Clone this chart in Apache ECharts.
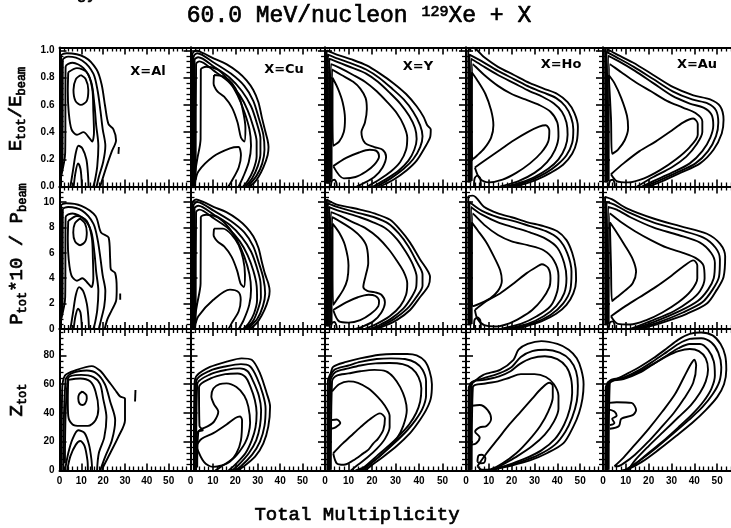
<!DOCTYPE html>
<html><head><meta charset="utf-8">
<script src="https://cdn.jsdelivr.net/npm/echarts@6/dist/echarts.min.js"></script>
<style>html,body{margin:0;padding:0;background:#fff}#c{width:731px;height:528px}</style>
</head><body><div id="c"></div>
<script>
// ---------------- data ----------------
const panelLabels = ['X=Al', 'X=Cu', 'X=Y', 'X=Ho', 'X=Au'];
const xTickLabels = [0, 10, 20, 30, 40, 50];
const eTickLabels = [0.0, 0.2, 0.4, 0.6, 0.8, 1.0];
const pTickLabels = [0, 2, 4, 6, 8, 10];
const zTickLabels = [0, 20, 40, 60, 80];

// contour lines, [multiplicity, value]
const E_Al = [
 [[0.7,0],[0.7,0.96],[3.3,0.98],[11.7,0.95],[17,0.86],[19.3,0.75],[20.9,0.59],[22.4,0.46],[24.7,0.42],[25.9,0.34],[24,0.26],[22,0.17],[19.8,0.06],[18.6,0]],
 [[0.3,0.03],[1.4,0.2],[1.5,0.93],[4,0.955],[10.5,0.925],[15.5,0.83],[17.5,0.7],[18.8,0.55],[19.8,0.42],[21,0.3],[20,0.18],[18,0.07],[17,0]],
 [[0.5,0.06],[2.6,0.25],[2.8,0.88],[6,0.91],[11,0.87],[14.5,0.77],[16,0.6],[16.8,0.45],[17.8,0.3],[17.3,0.15],[16.3,0.05],[15.5,0]],
 [[4,0.84],[8,0.87],[12.5,0.84],[15,0.72],[15.5,0.55],[15.8,0.4],[15,0.33],[13.5,0.36],[11,0.4],[8,0.38],[5.5,0.42],[4.2,0.55],[3.8,0.7],[4,0.84]],
 [[9.8,0.82],[12,0.79],[13.2,0.71],[12.5,0.63],[9.8,0.6],[7.3,0.63],[6.4,0.71],[7.5,0.79],[9.8,0.82]],
 [[5,0],[6.2,0.12],[7.5,0.25],[8.7,0.3],[10.5,0.28],[12.3,0.2],[13,0.1],[13.3,0]],
 [[6.5,0],[7.3,0.1],[8.5,0.17],[9.6,0.13],[10.1,0.05],[10.2,0]],
 [[27,0.24],[27.2,0.29]]
];
const P_Al = [
 [[0.7,0],[0.7,9.7],[3,9.9],[10,9.7],[16.5,8.9],[19,7.6],[22.5,7.2],[23.2,5.5],[23.5,4.7],[25.5,4.4],[26.2,3.2],[26,2.3],[24,1.5],[22,0.8],[20.7,0]],
 [[0.3,0.3],[1.4,2],[1.5,9.4],[4,9.6],[10.5,9.3],[15.5,8.3],[17.5,7],[18.8,5.5],[19.8,4.2],[21,3],[20.5,1.8],[19,0.7],[18,0]],
 [[0.5,0.6],[2.6,2.5],[2.8,8.8],[6,9.1],[11,8.7],[14.5,7.7],[16,6],[16.8,4.5],[17.8,3],[17.3,1.5],[16.3,0.5],[15.5,0]],
 [[4,8.5],[8,8.9],[12.5,8.5],[14.8,7.2],[15.3,5.5],[15.5,4],[14.7,3.3],[13,3.6],[10.5,4],[8,3.8],[5.5,4.2],[4.2,5.5],[3.8,7],[4,8.5]],
 [[9.4,8.7],[11.7,8.3],[12.5,7.6],[11.8,6.9],[9.4,6.6],[7.1,6.9],[6.3,7.6],[7,8.3],[9.4,8.7]],
 [[5,0],[6.2,1.3],[7.5,2.7],[9,3.3],[10.8,3],[12.5,2],[13.2,1],[13.5,0]],
 [[6.5,0],[7.3,1],[8.5,1.6],[9.6,1.3],[10.1,0.5],[10.2,0]],
 [[27.8,2.3],[27.8,2.8]]
];
const Z_Al = [
 [[1,0],[1.2,55],[2.5,66],[7.9,70],[14.8,72.6],[18.5,69.5],[22,63],[25.5,56],[27.8,51.4],[30,50],[30,35],[27,23.5],[23.2,12],[20.1,2.7],[19.5,0]],
 [[1.8,0],[2.8,63],[5.5,67.5],[12.5,69.5],[17,67.5],[20.8,60],[23.2,48],[25.5,35],[24,21],[20.9,9.5],[18.6,0]],
 [[2.5,5],[3.9,64],[10,66.5],[15.5,65],[18.6,60],[20,50],[21.5,37],[20.5,23],[18,12],[17.2,0]],
 [[4,63],[9.5,64],[14,62],[16.5,55],[17.8,43],[16.5,35],[13,31],[9.5,31],[6,32],[4,38],[3.8,50],[4,63]],
 [[10.5,55],[12.3,52.5],[12.5,50],[11.7,46.5],[10.5,45.6],[9.2,46.5],[8.6,50],[9,53],[10.5,55]],
 [[2.5,0],[4,12],[6,22],[8.6,28],[11.5,26],[13.5,18],[14.6,8],[15,0]],
 [[3.5,0],[5,10],[7.5,18],[9.5,20.5],[11.5,17],[12.8,7],[13,0]],
 [[34.6,48],[34.8,56]]
];

const E_Cu = [
 [[0.8,0],[0.8,0.97],[2.5,1.0],[5.7,0.98],[10.5,0.94],[16,0.9],[21.3,0.84],[25,0.78],[28,0.71],[30.3,0.62],[31.8,0.51],[33.3,0.41],[34.4,0.34],[34.8,0.29],[34.4,0.23],[32.5,0.14],[30.3,0.07],[28,0.02],[26,0]],
 [[1.3,0],[1.3,0.95],[3,0.98],[10.5,0.91],[18,0.83],[24,0.74],[28,0.63],[30.5,0.5],[32.5,0.38],[33,0.27],[32,0.17],[29.5,0.08],[25.5,0]],
 [[1.8,0],[1.8,0.93],[3.5,0.95],[10.5,0.88],[17.5,0.8],[23,0.7],[27,0.59],[29.5,0.47],[31.2,0.35],[31.2,0.24],[30,0.15],[27.5,0.06],[24.5,0]],
 [[2.3,0.05],[2.5,0.9],[4,0.92],[10.5,0.85],[17,0.77],[22,0.67],[25.5,0.56],[28,0.44],[29.5,0.33],[29.5,0.22],[28,0.12],[25.5,0.04],[23.5,0]],
 [[1.5,0.05],[3,0.2],[4.5,0.35],[4.6,0.86],[7,0.88],[12,0.86],[17,0.78],[21,0.67],[24,0.55],[26.3,0.42],[27,0.3],[26,0.18],[23.5,0.07],[21.5,0]],
 [[10.5,0.82],[14.5,0.81],[18.5,0.76],[21.5,0.67],[23.5,0.55],[24.5,0.43],[24,0.33],[22.5,0.36],[21,0.47],[18.5,0.58],[15,0.66],[12,0.7],[10.3,0.76],[10.5,0.82]],
 [[2,0.02],[3.5,0.11],[10.2,0.22],[17.6,0.28],[21.4,0.29],[22.5,0.23],[21.5,0.14],[18.4,0.04],[16.9,0]]
];
const P_Cu = [
 [[0.8,0],[0.8,9.9],[2.5,10.2],[5.7,10],[10.5,9.6],[16,9.2],[21.3,8.6],[25,8],[28,7.3],[30.3,6.4],[31.8,5.3],[33.3,4.3],[34.7,3.6],[35.3,3],[34.8,2.4],[33,1.5],[30.5,0.7],[28,0.2],[26,0]],
 [[1.3,0],[1.3,9.7],[3,10],[10.5,9.3],[18,8.5],[24,7.6],[28,6.5],[30.5,5.2],[32.5,4],[33.3,2.8],[32.3,1.8],[29.8,0.8],[25.5,0]],
 [[1.8,0],[1.8,9.5],[3.5,9.7],[10.5,9],[17.5,8.2],[23,7.2],[27,6.1],[29.5,4.9],[31.2,3.7],[31.4,2.5],[30.2,1.6],[27.8,0.6],[24.5,0]],
 [[2.3,0.5],[2.5,9.2],[4,9.4],[10.5,8.7],[17,7.9],[22,6.9],[25.5,5.8],[28,4.6],[29.5,3.4],[29.7,2.3],[28.3,1.2],[25.8,0.4],[23.5,0]],
 [[1.5,0.5],[3,2],[4.5,3.6],[4.6,8.8],[7,9],[12,8.8],[17,8],[21,6.9],[24,5.7],[26.3,4.3],[27,3.1],[26.2,1.9],[23.7,0.7],[21.5,0]],
 [[10.5,7.9],[14.5,7.9],[18.5,7.4],[21.5,6.6],[23.5,5.5],[24.3,4.3],[23.8,3.3],[22.3,3.6],[20.8,4.6],[18.3,5.7],[15,6.5],[12,6.9],[10.3,7.4],[10.5,7.9]],
 [[2,0.2],[3.5,1],[10.2,2.3],[17.6,3.1],[21.4,2.9],[22.4,2.3],[21.5,1.4],[18.5,0.5],[17,0]]
];
const Z_Cu = [
 [[1.5,0],[1.8,60],[2.8,66],[8.7,72],[16.1,75.7],[22.8,78],[27.3,77],[31,67.6],[34,53.7],[35.5,44.4],[34.7,30.5],[32.5,18.9],[28.8,9.6],[23.6,2.7],[20.6,0]],
 [[2,0],[2.5,62],[8.8,69.5],[16,72.5],[22.5,74],[26.5,72.5],[29.5,65],[32.3,53],[33.5,43],[33,31],[31,20],[27.5,11],[22.5,3],[19.5,0]],
 [[2.5,0],[3,60],[9,67],[16,70],[22,71],[25.5,69],[28,62],[30.5,52],[31.5,42],[31,31],[29.3,21],[26,12],[21.5,4],[18.5,0]],
 [[3,2],[3.5,27],[5.5,28],[4,31],[3.8,58],[9,64],[15.5,67],[21,67.5],[24.5,65],[26.8,58],[28.7,49],[29.5,40],[29,30],[27.3,21],[24.5,12],[20.5,5],[17,0]],
 [[2,23.5],[4.2,28.2],[8,31],[10.5,34],[12.4,41],[10.5,46],[9.3,51.4],[10.2,57],[13,60],[16.1,60.6],[20.5,58],[24,52],[25.8,44.4],[26.6,33],[25.8,25],[24.3,19],[21.8,13],[19.9,9.6],[17,6],[14.7,3.8],[13,2],[11,0]],
 [[2.5,17],[5,22],[10.2,26],[16.1,32],[20,36.5],[22.1,37.5],[23,35],[22.5,21],[20.5,12],[17.5,6],[14,3.5],[10,2.5],[6,6],[2.5,17]]
];

const E_Y = [
 [[0.7,0.02],[0.7,1.0],[5,0.97],[12,0.93],[17.7,0.89],[23.4,0.83],[29.1,0.76],[34.5,0.68],[39,0.59],[42,0.51],[43.5,0.45],[45,0.42],[44.7,0.36],[42.6,0.29],[39,0.19],[34.8,0.12],[29.1,0.05],[23.4,0]],
 [[1.2,0.02],[1.2,0.97],[5.5,0.94],[12,0.9],[17.5,0.86],[23,0.8],[28.5,0.72],[33.5,0.64],[37.5,0.55],[40.5,0.45],[41.5,0.37],[40.5,0.29],[37.5,0.2],[33.5,0.13],[28,0.06],[22,0]],
 [[1.7,0.02],[1.8,0.94],[6,0.91],[12,0.87],[17.5,0.83],[22.5,0.77],[27.5,0.69],[32,0.61],[35.8,0.52],[38.3,0.43],[39,0.35],[38,0.27],[35.5,0.19],[31.5,0.12],[26.5,0.06],[20.5,0]],
 [[2.2,0.03],[2.5,0.9],[6.5,0.87],[12,0.82],[17,0.77],[22,0.7],[26.5,0.62],[30.5,0.54],[33.5,0.45],[35,0.36],[34.5,0.27],[32,0.18],[28,0.11],[23,0.05],[18,0]],
 [[2.8,0.05],[3,0.86],[7,0.82],[12,0.77],[15,0.72],[17.3,0.65],[17.8,0.57],[17,0.47],[15.5,0.4],[17,0.32],[21,0.29],[24.5,0.27],[26,0.22],[24.5,0.14],[21,0.07],[16,0.02],[13.5,0]],
 [[3.2,0.8],[5.5,0.72],[7.5,0.62],[8.5,0.5],[8,0.4],[6,0.33],[3.5,0.3],[3.2,0.55],[3.2,0.8]],
 [[3.5,0.15],[9,0.21],[14.5,0.25],[19,0.27],[22,0.26],[23,0.22],[21,0.16],[17.5,0.11],[13,0.07],[8,0.06],[3.5,0.15]],
 [[2.5,0],[2.9,0.04],[4,0.05],[4.8,0.03],[5,0]]
];
const P_Y = [
 [[0.7,0.2],[0.7,10.2],[5,9.8],[10,9.6],[14.9,9.4],[21,9.1],[27.7,8.6],[32,7.8],[36.2,6.8],[40.4,5.5],[43.3,4.7],[44.7,4.1],[44,3.4],[40.4,2.5],[36.2,1.5],[30.5,0.7],[24.8,0.2],[22,0]],
 [[1.2,0.2],[1.2,9.9],[5.5,9.6],[14.9,9.1],[21,8.8],[27,8.3],[31.5,7.5],[35.5,6.5],[39,5.3],[41.5,4.3],[41.5,3.4],[38.8,2.5],[35,1.6],[29.5,0.8],[23.5,0.2],[21,0]],
 [[1.7,0.2],[1.8,9.6],[6,9.3],[14.9,8.8],[20.5,8.4],[26,7.9],[30.5,7.1],[34.3,6.1],[37.3,5.1],[39,4.1],[38.8,3.3],[36.8,2.5],[33.3,1.6],[28,0.8],[22,0.2],[19.5,0]],
 [[2.2,0.3],[2.5,9.2],[6.5,8.9],[12,8.4],[17.5,7.9],[22.5,7.2],[27,6.3],[30.5,5.4],[33.5,4.5],[35,3.6],[34.5,2.7],[32,1.8],[27.5,1],[22,0.4],[17,0]],
 [[2.8,0.5],[3,8.8],[7,8.4],[12,7.8],[15.5,7.2],[17.7,6.5],[18.4,5.2],[17.3,4.2],[16.3,3.3],[18,3],[21,2.9],[24,2.7],[25.5,2.1],[24,1.3],[20.5,0.6],[15.5,0.15],[13,0]],
 [[3.2,8.3],[6,7.6],[8.5,6.6],[10,5],[9.5,3.9],[7.8,3.1],[5,2.3],[3.5,1.9],[3.2,5],[3.2,8.3]],
 [[3.5,1.5],[9,2.1],[14,2.5],[18.5,2.7],[21.5,2.6],[23,2.2],[22.7,1.8],[19.5,1.2],[15,0.7],[10,0.5],[6,0.6],[3.5,1.5]],
 [[2.5,0],[2.9,0.45],[4,0.55],[4.8,0.3],[5,0]]
];
const Z_Y = [
 [[1,0],[1.2,62],[2.5,68],[3.5,72.2],[9,75.5],[14.9,78],[23.4,80.5],[29.1,81],[35,81],[39,80],[42.5,76],[44.5,69],[45.5,60],[45,50],[43,42],[39.5,33],[36.2,26],[30.5,17],[24.8,9.6],[19.1,2.7],[17,0]],
 [[1.5,0],[1.8,62],[4,70],[10,73],[15,75.5],[22,77.5],[28,78],[34,77.5],[38.5,75],[41.5,70],[43,62],[43,52],[41.5,43],[38.5,35],[35,28],[29.5,19],[24,11],[18.5,3.5],[16,0]],
 [[2,0],[2.3,62],[4.5,68.5],[10,71],[15,73],[21.5,74.5],[27.5,74.8],[33,74],[37,71],[39.8,65],[41,57],[40.5,48],[38.8,40],[35.8,32],[32,25],[27,17],[22,10],[17.5,3.5],[15,0]],
 [[2.5,0.5],[3,62],[5,66],[10,67.5],[15,69],[21,70],[26,69],[29.1,65],[32,58],[34,50],[34.8,42],[33.3,31],[30.5,22],[26,14],[21,7],[17,2.5],[13,0]],
 [[3,55],[6,60],[10,62],[14,61],[18.5,57],[22.5,51],[25.5,45],[27.5,38],[27.5,30],[25.5,22],[22,15],[18,9],[14,4],[11,0]],
 [[3.5,12],[7,18],[11,24],[15,30],[19,35.5],[23.4,39.7],[25.5,36.3],[24.8,28.2],[22.5,22],[20.6,18.9],[18.5,14.5],[16.3,11.9],[12,7],[8,4],[5,5],[3.5,12]],
 [[2.5,35],[5,35.5],[6.5,33],[4.5,30],[2.5,29]]
];

const E_Ho = [
 [[1,0.03],[1,1.0],[3,1.02],[8,0.95],[14,0.88],[21,0.82],[28,0.76],[34,0.72],[40,0.68],[44.5,0.62],[47.5,0.54],[49,0.44],[48.5,0.33],[46.5,0.24],[42.5,0.16],[37,0.1],[31,0.05],[25,0.015],[21,0]],
 [[1.5,0.03],[1.5,0.97],[7,0.92],[14,0.85],[21,0.79],[28,0.73],[34,0.69],[39.5,0.65],[43.5,0.59],[46,0.51],[47,0.42],[46.5,0.32],[44,0.23],[40,0.16],[35,0.1],[29,0.05],[23,0.015],[19.5,0]],
 [[2,0.03],[2.2,0.94],[7,0.89],[14,0.82],[21,0.76],[28,0.7],[33.5,0.66],[38.5,0.61],[42,0.55],[44,0.47],[44.5,0.38],[43.5,0.29],[40.5,0.2],[36,0.13],[30,0.07],[24,0.03],[18,0]],
 [[2.5,0.04],[3,0.9],[8,0.82],[14,0.74],[20,0.68],[26,0.64],[32,0.6],[37,0.55],[40,0.47],[40.5,0.37],[39,0.27],[35.5,0.18],[30,0.1],[23,0.04],[15,0]],
 [[2.5,0.84],[5,0.78],[8.5,0.68],[11,0.56],[12,0.45],[11,0.36],[8,0.28],[5,0.23],[2.8,0.2],[2.5,0.5],[2.5,0.84]],
 [[3.9,0.14],[9,0.2],[15,0.27],[21,0.34],[27,0.4],[32,0.44],[35,0.45],[36.5,0.41],[36,0.33],[33,0.25],[28,0.17],[22,0.1],[16,0.05],[10,0.03],[6,0.06],[3.9,0.14]],
 [[3.5,0],[3.8,0.06],[5,0.08],[6.2,0.06],[6.5,0]]
];
const P_Ho = [
 [[1,0.3],[1,10.4],[3,10.5],[8,9.6],[14,9.1],[20,8.8],[27,8.4],[34,8.1],[40,7.7],[44,7],[46.5,6],[48,4.8],[48.2,3.8],[47,2.8],[44,1.9],[39.5,1.2],[33,0.6],[26,0.2],[21,0]],
 [[1.5,0.3],[1.5,10],[7,9.3],[14,8.8],[21,8.5],[28,8.1],[35,7.7],[40.5,7.1],[44.3,6],[46.2,4.5],[45.7,3.1],[42.5,2],[37,1.1],[30,0.5],[22,0.1],[19,0]],
 [[2,0.3],[2.2,9.6],[7,9],[14,8.4],[21,8],[28,7.6],[35,7.1],[40,6.4],[43,5.2],[44,4],[43,2.8],[39.5,1.8],[34,1],[27,0.4],[17,0]],
 [[2.5,0.4],[3,9.1],[8,8.2],[14,7.4],[20,6.9],[27,6.6],[34,6.2],[38.5,5.4],[40.5,4.2],[40,3],[37,1.8],[31,1],[24,0.4],[15,0]],
 [[2.5,8.4],[5,7.8],[9,6.8],[12.5,5.6],[15,4.6],[15.7,3.8],[14,3],[10.5,2.4],[6,2],[3,1.8],[2.5,4],[2.5,8.4]],
 [[3.9,1.5],[9,2.2],[14.9,2.8],[21,3.6],[26.6,4.4],[31,4.9],[33.2,5.1],[36,4.8],[37,4],[36.5,3.3],[33.2,2.3],[29,1.5],[24,0.9],[19,0.45],[13,0.2],[8,0.3],[5,0.8],[3.9,1.5]],
 [[3.5,0],[3.7,0.7],[5,0.9],[6.2,0.7],[6.5,0]]
];
const Z_Ho = [
 [[1,0],[1.2,58],[3,61],[7.6,66.5],[14.9,70],[20.8,77],[23,84],[27,88],[33,90],[40,88],[45,84],[48.5,78],[50.5,70],[51.5,60],[51,50],[49.5,40],[47,30.5],[42.7,19],[35.4,12],[28,7],[20,3.5],[12,0.8],[9,0]],
 [[1.5,0],[1.8,60],[7.5,64],[14.5,67.5],[20,72],[24,79],[29,83],[35,84],[41,82],[45.5,77],[48.2,69],[49,59],[48.5,48],[46.5,37],[43.5,27],[39,18],[32,11],[24,6],[16,2.5],[10,0]],
 [[2,0],[2.5,61],[8,63],[14.5,65.5],[19.5,69],[23.5,74],[28.5,78],[34.5,79.5],[40,77.5],[44,72],[46,64],[46.5,54],[45.5,43],[43,32],[39,22],[33,14],[25.5,8],[17,3],[11,0]],
 [[2.5,0.5],[3,58],[8.5,60.5],[14,62],[19,64.5],[24,67],[30,67],[35,65],[38.5,60],[40.5,52],[40.5,43],[38.5,34],[34.5,25],[29,17],[22.5,10],[16,4],[12,0]],
 [[5,3],[9,12],[14,22],[19,32],[24,41],[29,50],[33,57],[36.5,61],[38,59],[38,51],[36,41],[32.5,31],[27.5,21],[22,12],[16,5],[11,1],[7,0.5],[5,3]],
 [[2.5,45],[6,45.5],[9.5,42],[11,36],[9,31],[6,30],[4,27],[6,23],[4.5,19],[2.5,18]],
 [[5,6],[5.5,10.5],[7,11],[8.5,8.5],[8,5.5],[6.5,5],[5,6]]
];

const E_Au = [
 [[1,0.03],[0.9,1.02],[5,0.98],[13.3,0.91],[22,0.82],[30.8,0.73],[39.6,0.67],[46.9,0.64],[51.3,0.59],[52.8,0.49],[52,0.39],[48.4,0.27],[42.5,0.17],[33.8,0.1],[26,0.04],[20,0]],
 [[1.5,0.03],[1.5,0.99],[6,0.95],[13.5,0.88],[22,0.79],[30.5,0.7],[39,0.64],[46,0.61],[49.5,0.56],[50.5,0.47],[49.5,0.37],[46,0.26],[40.5,0.17],[32,0.1],[24,0.04],[18.5,0]],
 [[2,0.03],[2.2,0.96],[7,0.92],[14,0.85],[22,0.76],[30,0.67],[38,0.61],[44,0.58],[47.5,0.53],[48.3,0.45],[47,0.36],[43.5,0.26],[38,0.17],[30,0.1],[22,0.04],[17,0]],
 [[2.5,0.04],[3,0.9],[8,0.84],[14,0.77],[21,0.7],[28,0.63],[35,0.58],[40.5,0.54],[43.5,0.48],[43.5,0.4],[41,0.31],[36.5,0.22],[30,0.14],[22,0.07],[15,0]],
 [[2.5,0.82],[5,0.76],[8,0.65],[10.5,0.52],[11,0.43],[9.5,0.34],[6.5,0.27],[4,0.24],[3.5,0.5],[2.5,0.82]],
 [[3.5,0.09],[9,0.17],[16,0.26],[23,0.33],[30,0.41],[35,0.47],[39.5,0.5],[41.5,0.46],[41.5,0.38],[38,0.29],[32,0.2],[25,0.12],[18,0.06],[11,0.03],[6,0.04],[3.5,0.09]],
 [[2.5,0],[3,0.04],[4.2,0.05],[5,0.03],[5.2,0]]
];
const P_Au = [
 [[1,0.3],[0.9,10.4],[4,10.2],[10.4,9.5],[22.1,8.7],[33.8,8.1],[45.5,7.5],[51.3,6.7],[53.5,5.7],[52.8,4.1],[49.9,3.1],[45.5,2],[36.7,1.2],[25,0.45],[18,0.1],[15,0]],
 [[1.5,0.3],[1.5,10],[5,9.8],[11,9.2],[22,8.4],[33.5,7.8],[44,7.2],[49.3,6.4],[51.2,5.5],[50.8,4.1],[48,3.1],[43.5,2.1],[35,1.3],[24,0.5],[14,0]],
 [[2,0.3],[2.2,9.6],[6,9.4],[12,8.8],[22,8],[33,7.4],[42.5,6.8],[47.3,6],[49,5.2],[48.5,4],[46,3.1],[41.5,2.2],[33.5,1.4],[23,0.6],[13,0]],
 [[2.5,0.4],[3,9.1],[8,8.4],[14,7.7],[21,7],[28,6.4],[35,6],[40.5,5.6],[44,5],[44.5,4],[42.5,3],[38,2.2],[31,1.4],[22,0.7],[12,0]],
 [[3,8.4],[6,7.6],[9.5,6.6],[13,5.5],[14.5,4.5],[13,3.6],[9.5,3],[6,2.5],[4,2.2],[3.5,5],[3,8.4]],
 [[3.5,1],[9,1.7],[16,2.5],[23,3.3],[30,4.2],[35,4.9],[39.6,5.4],[41.3,5],[41.3,4],[38.5,3],[33,2.1],[26,1.3],[19,0.7],[12,0.35],[6.5,0.4],[3.5,1]],
 [[2.5,0],[3,0.5],[4.2,0.6],[5,0.4],[5.2,0]]
];
const Z_Au = [
 [[1,0],[1.2,58],[3,61],[9,66],[16,72],[22,78],[28,85],[33,91],[38,95],[43,96],[48,94],[51.5,88],[53.5,80],[54,70],[53,60],[50,51],[45,42],[39,33],[32,24],[24,14],[17,6],[11,1],[8,0]],
 [[1.5,0],[1.8,60],[9,64.5],[16,70],[22,76],[28,82.5],[33,88],[38,91.5],[43,92],[47.5,89],[50.5,82],[51.8,72],[51,62],[48,53],[43.5,44],[37.5,35],[31,26],[23.5,16],[17,8],[11.5,2],[9,0]],
 [[2,0],[2.3,61],[9,63.5],[16,68],[22,74],[28,80],[33,85],[38,88],[42.5,88],[46,84],[48.5,76],[49,66],[47.5,57],[44,48],[39,39],[33,30],[26,20],[19,11],[13,3],[10,0]],
 [[2.5,0.5],[3,62],[9,64.5],[16,69],[22,74],[28,79.5],[33,83],[38,84.5],[42,83],[45,78],[46,70],[45,62],[42.5,54],[38.5,45.5],[33,37],[26.5,27],[20,17],[14,7],[11,0]],
 [[5,3],[9,9],[14,18],[20,29],[26,41],[31.5,53],[35.5,65],[38.5,74],[40,77],[40.8,73],[39.5,61],[35.5,50],[31,40],[25.5,30],[19.5,19.5],[14,11],[9.5,5.5],[6.5,3],[5,3]],
 [[2.5,61],[2.5,47],[6,47.5],[12.5,47],[14.5,42],[13,38.5],[8,36],[7,31],[3,29]],
 [[2.5,42.5],[5,41],[6,38],[4,36],[5,33],[3,31.5]]
];

const panelData = [
  [E_Al, E_Cu, E_Y, E_Ho, E_Au],
  [P_Al, P_Cu, P_Y, P_Ho, P_Au],
  [Z_Al, Z_Cu, Z_Y, Z_Ho, Z_Au]
];

// ---------------- layout ----------------
const colLeft = [59.5, 190.5, 325, 466, 603];
const colWidth = [131, 134.5, 141, 137, 137];
const rowTop = [47.5, 186.5, 329];
const rowHeight = [139, 142.5, 141.5];
const rowMax = [1.022, 11.22, 98.4];
const rowInterval = [0.2, 2, 20];
const rowTicks = [eTickLabels, pTickLabels, zTickLabels];
const rowFmt = [v => v.toFixed(1), v => String(v), v => String(v)];

const INK = '#000';
const grids = [], xAxes = [], yAxes = [], series = [];

function tickMatch(list, v) {
  return list.find(t => Math.abs(t - v) < 1e-6);
}

for (let r = 0; r < 3; r++) {
  for (let c = 0; c < 5; c++) {
    const g = grids.length;
    grids.push({left: colLeft[c], top: rowTop[r], width: colWidth[c], height: rowHeight[r],
      containLabel: false, outerBoundsMode: 'none', show: false});
    const baseX = {
      type: 'value', gridIndex: g, min: 0, max: 60, interval: 10,
      axisLine: {show: true, onZero: false, lineStyle: {color: INK, width: 2}},
      axisTick: {show: true, inside: true, length: 7, lineStyle: {color: INK, width: 1.6}},
      minorTick: {show: true, splitNumber: 5, length: 4, lineStyle: {color: INK, width: 1.3}},
      splitLine: {show: false}, minorSplitLine: {show: false}
    };
    xAxes.push(Object.assign({}, baseX, {position: 'bottom',
      axisLabel: {show: r === 2, margin: 6, color: INK, fontFamily: 'Liberation Sans', fontWeight: 'bold', fontSize: 10,
        formatter: v => { const t = tickMatch(xTickLabels, v); return t === undefined ? '' : String(t); }}}));
    xAxes.push(Object.assign({}, baseX, {position: 'top', axisLabel: {show: false}}));
    const baseY = {
      type: 'value', gridIndex: g, min: 0, max: rowMax[r], interval: rowInterval[r],
      axisLine: {show: true, onZero: false, lineStyle: {color: INK, width: 2}},
      axisTick: {show: true, inside: true, length: 7, lineStyle: {color: INK, width: 1.6}},
      minorTick: {show: true, splitNumber: 5, length: 4, lineStyle: {color: INK, width: 1.3}},
      splitLine: {show: false}, minorSplitLine: {show: false}
    };
    const ticks = rowTicks[r], fmt = rowFmt[r];
    yAxes.push(Object.assign({}, baseY, {position: 'left',
      axisLabel: {show: c === 0, margin: 5, color: INK, fontFamily: 'Liberation Sans', fontWeight: 'bold', fontSize: 10,
        formatter: v => { const t = tickMatch(ticks, v); return t === undefined ? '' : fmt(t); }}}));
    yAxes.push(Object.assign({}, baseY, {position: 'right', axisLabel: {show: false}}));

    panelData[r][c].forEach(line => {
      series.push({type: 'line', xAxisIndex: 2 * g, yAxisIndex: 2 * g, data: line,
        symbol: 'none', showSymbol: false, smooth: 0.3, clip: true, silent: true,
        lineStyle: {color: INK, width: 1.9}, z: 3, animation: false});
    });
  }
}

const mono = 'Liberation Mono';
const heavy = {stroke: INK, lineWidth: 0.7};
const graphics = [
  {type: 'text', x: 97, y: 2.5, style: Object.assign({text: 'ergy', fill: INK,
    font: '17px "' + mono + '"', align: 'right', verticalAlign: 'bottom'}, heavy)},
  {type: 'text', x: 359, y: 16, style: Object.assign({text: '60.0 MeV/nucleon {sup|129}Xe + X', fill: INK,
    font: '23px "' + mono + '"', align: 'center', verticalAlign: 'middle',
    rich: {sup: {fontSize: 15, fontFamily: mono, verticalAlign: 'top', lineHeight: 14}}}, heavy)},
  {type: 'text', x: 357, y: 515, style: Object.assign({text: 'Total Multiplicity', fill: INK,
    font: '19px "' + mono + '"', align: 'center', verticalAlign: 'middle'}, heavy)},
  {type: 'text', x: 16, y: 109, rotation: Math.PI / 2, style: Object.assign({text: '{m|E}{s|tot}{m|/E}{s|beam}', fill: INK,
    align: 'center', verticalAlign: 'middle',
    rich: {m: {fontSize: 19, fontFamily: mono, lineHeight: 24}, s: {fontSize: 12, fontFamily: mono, lineHeight: 12, verticalAlign: 'bottom'}}}, heavy)},
  {type: 'text', x: 16.5, y: 254, rotation: Math.PI / 2, style: Object.assign({text: '{m|P}{s|tot}{m|*10 / P}{s|beam}', fill: INK,
    align: 'center', verticalAlign: 'middle',
    rich: {m: {fontSize: 19, fontFamily: mono, lineHeight: 24}, s: {fontSize: 12, fontFamily: mono, lineHeight: 12, verticalAlign: 'bottom'}}}, heavy)},
  {type: 'text', x: 17, y: 400, rotation: Math.PI / 2, style: Object.assign({text: '{m|Z}{s|tot}', fill: INK,
    align: 'center', verticalAlign: 'middle',
    rich: {m: {fontSize: 19, fontFamily: mono, lineHeight: 24}, s: {fontSize: 12, fontFamily: mono, lineHeight: 12, verticalAlign: 'bottom'}}}, heavy)}
];
const labelPos = [[148, 72], [284, 70], [418, 67], [561, 65], [697, 65]];
panelLabels.forEach((t, i) => {
  graphics.push({type: 'text', x: labelPos[i][0], y: labelPos[i][1], z: 10,
    style: {text: t, fill: INK, font: 'bold 13px "DejaVu Sans"', align: 'center', verticalAlign: 'middle'}});
});

const chart = echarts.init(document.getElementById('c'), null, {renderer: 'canvas', width: 731, height: 528});
chart.setOption({
  animation: false, backgroundColor: '#fff',
  grid: grids, xAxis: xAxes, yAxis: yAxes, series: series, graphic: graphics
});
</script></body></html>
